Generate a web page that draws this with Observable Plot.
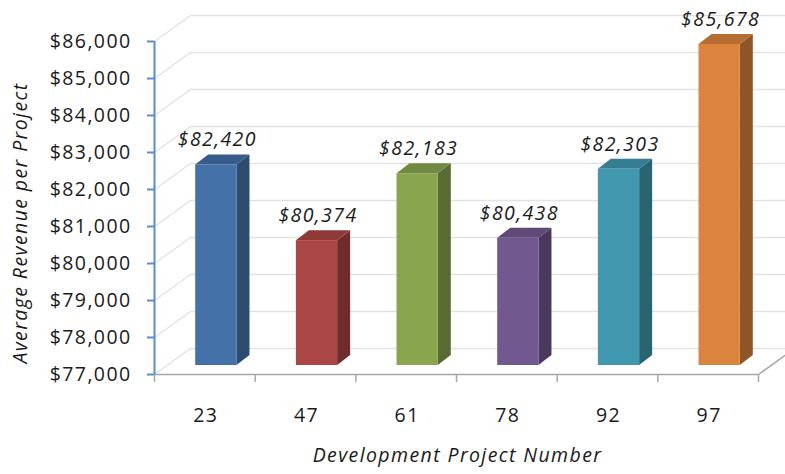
<!DOCTYPE html>
<html>
<head>
<meta charset="utf-8">
<script src="https://cdn.jsdelivr.net/npm/d3@7"></script>
<script src="https://cdn.jsdelivr.net/npm/@observablehq/plot@0.6"></script>
<style>
  html, body { margin: 0; padding: 0; background: #fff; }
  #chart svg { display: block; }
  #chart svg text { letter-spacing: 1.4px; }
</style>
</head>
<body>
<div id="chart"></div>
<script>
// ---- data ----
const projects = ["23", "47", "61", "78", "92", "97"];
const revenue = [82420, 80374, 82183, 80438, 82303, 85678];
const frontColors = ["#4571a9", "#aa4644", "#89a54e", "#71588f", "#4198af", "#db843d"];
const sideColors  = ["#2d4a6f", "#6e2d2c", "#596b32", "#49395d", "#2a6371", "#8e5627"];
const topColors   = ["#385c8c", "#8f3a39", "#718940", "#5e4977", "#347d92", "#b66d31"];
const yTicks = [77000, 78000, 79000, 80000, 81000, 82000, 83000, 84000, 85000, 86000];
const yTitle = "Average Revenue per Project";
const xTitle = "Development Project Number";

// ---- layout (pixels) ----
const W = 785, H = 474;
const mL = 154, mR = 27, mT = 41, mB = 100;
const yMin = 77000, yMax = 86000;
const pxPerX = (W - mL - mR) / projects.length;
const pxPerY = (H - mT - mB) / (yMax - yMin);
const wallDX = 36, wallDY = 26;       // depth of the chart box
const barDX = 13, barDY = 10;         // depth of each bar
const barOffX = 12, barOffY = 9;      // bars sit part way into the box
const barL = 0.29, barR = 0.70;       // bar front face inside band

const wx = wallDX / pxPerX, wy = wallDY / pxPerY;
const bx = barDX / pxPerX, by = barDY / pxPerY;

const bars = projects.map((p, i) => ({p, i, v: revenue[i]}));
const sides = bars.flatMap(d => [
  {i: d.i, x: d.i + barR, y1: yMin, y2: d.v},
  {i: d.i, x: d.i + barR + bx, y1: yMin + by, y2: d.v + by}
]);
const tops = bars.flatMap(d => [
  {i: d.i, y: d.v, x1: d.i + barL, x2: d.i + barR},
  {i: d.i, y: d.v + by, x1: d.i + barL + bx, x2: d.i + barR + bx}
]);

const fmt = d => "$" + d3.format(",")(d);
const font = "'Open Sans', sans-serif";
const fs = 19.5;

const chart = Plot.plot({
  width: W, height: H,
  marginLeft: mL, marginRight: mR, marginTop: mT, marginBottom: mB,
  style: {fontFamily: font, fontSize: fs + "px", color: "#1a1a1a", background: "#fff", overflow: "visible"},
  x: {type: "linear", domain: [0, projects.length], axis: null},
  y: {domain: [yMin, yMax], axis: null},
  marks: [
    // back wall gridlines
    Plot.ruleY(yTicks, {x1: 0, x2: projects.length, dx: wallDX, dy: -wallDY, stroke: "#e2e2e2", strokeWidth: 1.3}),
    // left wall diagonals
    Plot.link(yTicks, {x1: 0, y1: d => d, x2: wx, y2: d => d + wy, stroke: "#e2e2e2", strokeWidth: 1.3}),
    // floor right edge
    Plot.link([yMin], {x1: projects.length, y1: d => d, x2: projects.length + wx, y2: d => d + wy, stroke: "#a6a6a6", strokeWidth: 1.5}),
    // x axis baseline
    Plot.ruleY([yMin], {x1: 0, x2: projects.length, stroke: "#a6a6a6", strokeWidth: 1.5}),
    Plot.axisX({ticks: d3.range(projects.length + 1), tickFormat: () => "", tickSize: 8, stroke: "#a6a6a6", strokeWidth: 1.5}),
    // bars: side faces
    Plot.areaY(sides, {x: "x", y1: "y1", y2: "y2", z: "i", fill: d => sideColors[d.i], dx: barOffX, dy: -barOffY}),
    // bars: top faces
    Plot.areaX(tops, {y: "y", x1: "x1", x2: "x2", z: "i", fill: d => topColors[d.i], dx: barOffX, dy: -barOffY}),
    // bars: front faces
    Plot.rect(bars, {x1: d => d.i + barL, x2: d => d.i + barR, y1: yMin, y2: "v", fill: d => frontColors[d.i], dx: barOffX, dy: -barOffY}),
    // value labels
    Plot.text(bars, {x: d => d.i + (barL + barR) / 2, y: "v", text: d => fmt(d.v), dx: barOffX + 1, dy: -barOffY - 25, fontStyle: "italic", fill: "#1a1a1a", fontSize: fs}),
    // y axis
    Plot.ruleX([0], {y1: yMin, y2: yMax, stroke: "#5b8ccf", strokeWidth: 2}),
    Plot.axisY({ticks: yTicks, tickFormat: fmt, tickSize: 7, tickPadding: 16, stroke: "#5b8ccf", strokeWidth: 2, fill: "#1a1a1a", fontSize: fs, label: null}),
    // x labels
    Plot.text(bars, {x: d => d.i + 0.5, y: yMin, text: "p", dy: 41, dx: 1, fill: "#1a1a1a", fontSize: fs}),
    // axis titles
    Plot.text([yTitle], {frameAnchor: "left", dx: -134, dy: 15, rotate: -90, textAnchor: "middle", fontStyle: "italic", fill: "#1a1a1a", fontSize: fs}),
    Plot.text([xTitle], {frameAnchor: "bottom", dy: 87, dx: 1, fontStyle: "italic", fill: "#1a1a1a", fontSize: fs})
  ]
});
document.getElementById("chart").appendChild(chart);
</script>
</body>
</html>
